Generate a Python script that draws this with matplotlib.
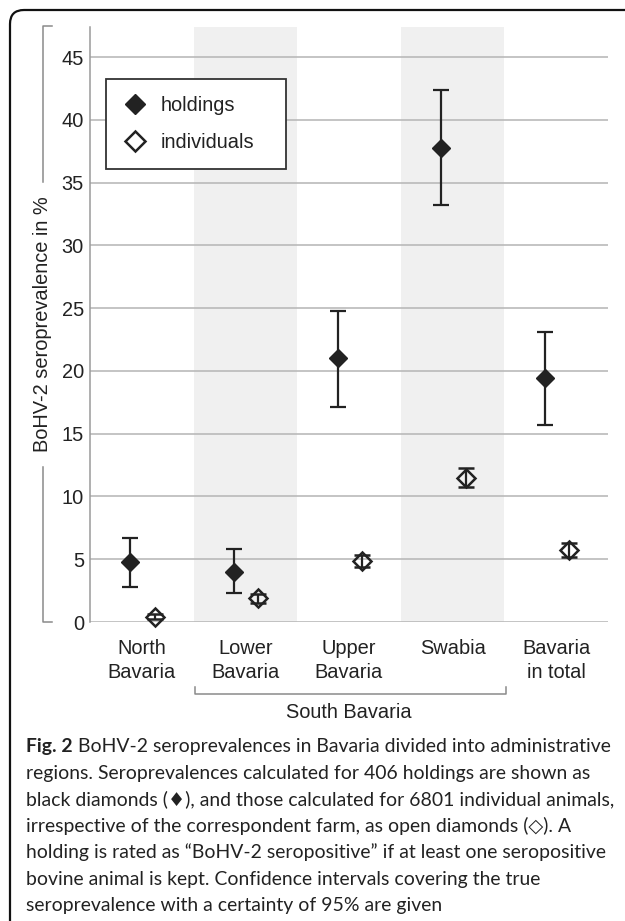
import matplotlib
matplotlib.use("Agg")
import matplotlib.pyplot as plt
from matplotlib.patches import FancyBboxPatch
from matplotlib.lines import Line2D
from matplotlib.transforms import IdentityTransform

# data (% seroprevalence, 95% CI)
regions = ["North\nBavaria", "Lower\nBavaria", "Upper\nBavaria", "Swabia", "Bavaria\nin total"]
holdings = [4.8, 4.0, 21.0, 37.8, 19.4]
holdings_lo = [2.8, 2.3, 17.1, 33.2, 15.7]
holdings_hi = [6.7, 5.8, 24.8, 42.4, 23.1]
individuals = [0.4, 1.9, 4.85, 11.5, 5.75]
individuals_lo = [0.2, 1.55, 4.4, 10.75, 5.2]
individuals_hi = [0.65, 2.25, 5.3, 12.3, 6.3]
yticks = [0, 5, 10, 15, 20, 25, 30, 35, 40, 45]
shaded = [1, 3]  # Lower Bavaria, Swabia

caption_bold = "Fig. 2"
caption_lines = [
    "BoHV-2 seroprevalences in Bavaria divided into administrative",
    "regions. Seroprevalences calculated for 406 holdings are shown as",
    "black diamonds (\u2666), and those calculated for 6801 individual animals,",
    "irrespective of the correspondent farm, as open diamonds (\u25c7). A",
    "holding is rated as \u201cBoHV-2 seropositive\u201d if at least one seropositive",
    "bovine animal is kept. Confidence intervals covering the true",
    "seroprevalence with a certainty of 95% are given",
]

W, H = 625, 921
TXT = "#222222"
plt.rcParams["font.family"] = ["Liberation Sans", "DejaVu Sans"]
plt.rcParams["font.size"] = 14.4

fig = plt.figure(figsize=(W / 100, H / 100), dpi=100)
ax = fig.add_axes([90 / W, 1 - 622 / H, 518 / W, 595 / H])
ax.set_xlim(0, 5)
ax.set_ylim(0, 47.4)

for s in shaded:
    ax.axvspan(s, s + 1, color="#f0f0f0", zorder=0, lw=0)
for t in yticks:
    ax.axhline(t, color="#b4b4b4", lw=1.1, zorder=1)

x = range(len(regions))
xh = [i + 0.39 for i in x]
xi = [i + 0.625 for i in x]
err_h = [[h - l for h, l in zip(holdings, holdings_lo)],
         [u - h for h, u in zip(holdings, holdings_hi)]]
err_i = [[v - l for v, l in zip(individuals, individuals_lo)],
         [u - v for v, u in zip(individuals, individuals_hi)]]

ax.errorbar(xh, holdings, yerr=err_h, fmt="D", color=TXT, ms=9.5,
            elinewidth=1.6, capsize=5.8, capthick=1.6, zorder=3, clip_on=False)
ax.errorbar(xi, individuals, yerr=err_i, fmt="D", color=TXT, mfc="none",
            ms=9.5, mew=1.8, elinewidth=1.6, capsize=5.8, capthick=1.6,
            zorder=3, clip_on=False)

ax.set_yticks(yticks)
ax.set_xticks([i + 0.5 for i in x])
ax.set_xticklabels(regions, linespacing=1.32)
ax.tick_params(axis="y", length=0, pad=4.3, colors=TXT, labelsize=14.4)
ax.tick_params(axis="x", length=0, pad=12.5, colors=TXT, labelsize=14.4)
for side in ["top", "right", "bottom"]:
    ax.spines[side].set_visible(False)
ax.spines["left"].set_color("#9a9a9a")
ax.spines["left"].set_linewidth(1.1)
ax.patch.set_alpha(0)

handles = [
    Line2D([], [], ls="none", marker="D", color=TXT, ms=10.5),
    Line2D([], [], ls="none", marker="D", color=TXT, mfc="white", ms=10, mew=1.8),
]
leg = ax.legend(handles, ["holdings", "individuals"], loc="lower left",
                bbox_to_anchor=(0.031, 0.761, 0.347, 0.167), mode="expand",
                fontsize=14.4, frameon=True, fancybox=False, framealpha=1,
                edgecolor="#333333", borderpad=0.85, labelspacing=0.9,
                handlelength=1.2, handletextpad=0.7, borderaxespad=0)
leg.get_frame().set_linewidth(1.3)
for t in leg.get_texts():
    t.set_color(TXT)

ident = IdentityTransform()


def line(xs, ys, color="#8a8a8a", lw=1.1):
    fig.add_artist(Line2D(xs, [H - y for y in ys], transform=ident,
                          color=color, lw=lw))


# bracket around y label
line([52, 43, 43], [26, 26, 182])
line([52, 43, 43], [622, 622, 467])
fig.text(43, H - 324, "BoHV-2 seroprevalence in %", transform=ident,
         rotation=90, ha="center", va="center", color=TXT, fontsize=14.4)

# South Bavaria bracket
line([195, 195, 506, 506], [687, 694, 694, 687])
fig.text(349, H - 718, "South Bavaria", transform=ident, ha="center",
         va="baseline", color=TXT, fontsize=14.4)

# frame
frame = FancyBboxPatch((10, -40), 660, H - 10 + 40, transform=ident,
                       boxstyle="round,pad=0,rounding_size=14",
                       fc="none", ec="#111111", lw=1.6)
fig.add_artist(frame)

# caption
cap_font = ["Lato", "DejaVu Sans"]
cap_size = 13.95
renderer = fig.canvas.get_renderer()
y0 = 752
for k, txt in enumerate(caption_lines):
    yb = H - (y0 + k * 26.5)
    if k == 0:
        tb = fig.text(26, yb, caption_bold, transform=ident, va="baseline",
                      fontweight="bold", family=cap_font, fontsize=cap_size,
                      color=TXT)
        wb = tb.get_window_extent(renderer).width
        fig.text(26 + wb + 5, yb, txt, transform=ident, va="baseline",
                 family=cap_font, fontsize=cap_size, color=TXT)
    else:
        fig.text(26, yb, txt, transform=ident, va="baseline",
                 family=cap_font, fontsize=cap_size, color=TXT)

fig.savefig("out.png", dpi=100)
